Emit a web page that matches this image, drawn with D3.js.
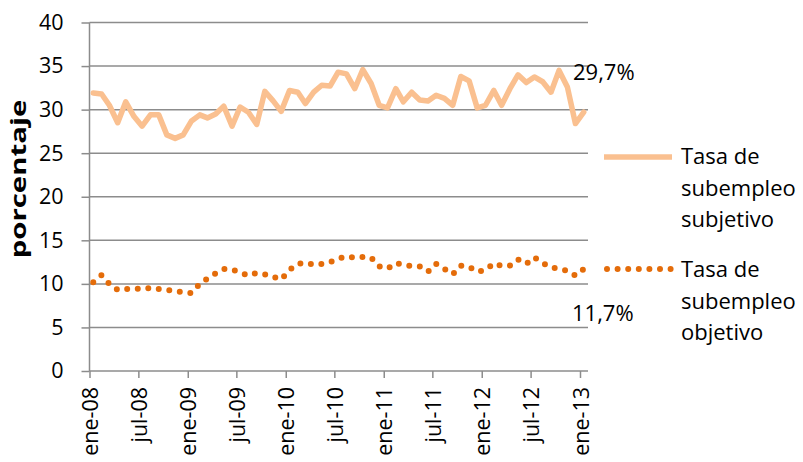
<!DOCTYPE html>
<html>
<head>
<meta charset="utf-8">
<title>Tasa de subempleo</title>
<style>
  body { margin: 0; background: #fff; }
  svg { display: block; font-family: 'Open Sans', sans-serif; }
  .grid line { stroke: #8c8c8c; stroke-width: 1.5px; }
  .axis path, .axis line { stroke: #8c8c8c; stroke-width: 1.5px; }
  .axis text { fill: #000; font-size: 21.5px; font-family: 'Open Sans', sans-serif; }
</style>
</head>
<body>
<div id="chart"></div>
<script src="https://d3js.org/d3.v7.min.js"></script>
<script>
var width = 803, height = 462;

// monthly values, ene-08 .. ene-13
var subjetivo = [31.9, 31.8, 30.5, 28.5, 30.9, 29.2, 28.1, 29.4, 29.4, 27.1, 26.7, 27.1,
                 28.7, 29.4, 29.05, 29.5, 30.4, 28.1, 30.3, 29.7, 28.3, 32.1, 31.0, 29.8,
                 32.2, 32.0, 30.7, 32.0, 32.8, 32.7, 34.3, 34.1, 32.4, 34.6, 33.0, 30.5,
                 30.2, 32.4, 30.9, 32.0, 31.1, 31.0, 31.65, 31.3, 30.5, 33.8, 33.3, 30.2,
                 30.5, 32.2, 30.5, 32.4, 34.0, 33.1, 33.75, 33.2, 32.0, 34.5, 32.6, 28.4,
                 29.7];
var objetivo = [10.2, 11.0, 10.0, 9.3, 9.4, 9.45, 9.4, 9.55, 9.4, 9.3, 9.15, 9.05,
                8.95, 10.0, 10.6, 11.2, 11.7, 11.65, 11.3, 10.95, 11.25, 11.1, 10.8, 10.5,
                11.6, 12.3, 12.4, 12.2, 12.3, 12.5, 12.9, 13.15, 13.0, 13.1, 13.0, 12.0,
                11.75, 12.4, 12.2, 12.05, 12.0, 11.4, 12.3, 11.7, 11.1, 12.1, 11.95, 11.4,
                11.6, 12.35, 12.05, 12.1, 12.8, 12.3, 13.05, 12.4, 11.9, 11.7, 11.5, 10.95,
                11.7];
var yTicks = [0, 5, 10, 15, 20, 25, 30, 35, 40];
var mesesCortos = ["ene", "feb", "mar", "abr", "may", "jun", "jul", "ago", "sep", "oct", "nov", "dic"];
var legendNames = [["Tasa de", "subempleo", "subjetivo"], ["Tasa de", "subempleo", "objetivo"]];
var endLabels = ["29,7%", "11,7%"];

var meses = d3.timeMonth.range(new Date(2008, 0, 1), new Date(2013, 1, 1));
var tickDates = d3.timeMonth.every(6).range(new Date(2008, 0, 1), new Date(2013, 1, 1));

var x = d3.scaleTime()
    .domain([new Date(2008, 0, 1), new Date(2013, 0, 1)])
    .range([89.5, 580]);
var y = d3.scaleLinear().domain([0, 40]).range([371, 22.5]);
var xRight = 588;

var svg = d3.select("#chart").append("svg")
    .attr("width", width)
    .attr("height", height);

// gridlines
svg.append("g").attr("class", "grid")
  .selectAll("line")
  .data(yTicks.slice(1))
  .enter().append("line")
    .attr("x1", x.range()[0]).attr("x2", xRight)
    .attr("y1", function(d){ return y(d); })
    .attr("y2", function(d){ return y(d); });

// y axis
var yAxis = svg.append("g").attr("class", "axis")
    .attr("transform", "translate(" + x.range()[0] + ",0)")
    .call(d3.axisLeft(y).tickValues(yTicks).tickSize(8).tickPadding(18).tickSizeOuter(0));
yAxis.select(".domain").attr("d", "M0," + y(0) + "V" + y(40));

// x axis
var xAxis = svg.append("g").attr("class", "axis")
    .attr("transform", "translate(0," + y(0) + ")")
    .call(d3.axisBottom(x).tickValues(tickDates).tickSize(7).tickSizeOuter(0)
      .tickFormat(function(d){ return mesesCortos[d.getMonth()] + "-" + d3.timeFormat("%y")(d); }));
xAxis.select(".domain").attr("d", "M" + x.range()[0] + ",0H" + xRight);
xAxis.selectAll("text")
    .attr("transform", "rotate(-90)")
    .attr("text-anchor", "end")
    .attr("x", -16)
    .attr("y", 0)
    .attr("dy", "0.38em");

// y title (stretched along its length like the original)
svg.append("text")
    .attr("transform", "translate(26,179) rotate(-90) scale(1.4,1)")
    .attr("text-anchor", "middle")
    .style("font-weight", "bold")
    .style("font-size", "21px")
    .text("porcentaje");

function mid(d){ return d3.timeDay.offset(d, 14); }

var line = d3.line()
    .x(function(d, i){ return x(mid(meses[i])); })
    .y(function(d){ return y(d); });

svg.append("path")
    .datum(subjetivo)
    .attr("fill", "none")
    .attr("stroke", "#FAC090")
    .attr("stroke-width", 5.5)
    .attr("stroke-linejoin", "round")
    .attr("stroke-linecap", "round")
    .attr("d", line);

svg.append("path")
    .datum(objetivo)
    .attr("fill", "none")
    .attr("stroke", "#E46C0A")
    .attr("stroke-width", 6)
    .attr("stroke-linecap", "round")
    .attr("stroke-dasharray", "0 10.6")
    .attr("d", line);

// end labels
svg.append("text").attr("x", 573).attr("y", 80)
    .style("font-size", "22px").text(endLabels[0]);
svg.append("text").attr("x", 572).attr("y", 321)
    .style("font-size", "22px").text(endLabels[1]);

// legend
var legend = svg.append("g");
legend.append("line")
    .attr("x1", 604).attr("x2", 672).attr("y1", 157).attr("y2", 157)
    .attr("stroke", "#FAC090").attr("stroke-width", 5.5);
legend.append("line")
    .attr("x1", 607).attr("x2", 672).attr("y1", 269).attr("y2", 269)
    .attr("stroke", "#E46C0A").attr("stroke-width", 6)
    .attr("stroke-linecap", "round").attr("stroke-dasharray", "0 10.6");

legendNames.forEach(function(lines, k){
    var t = legend.append("text")
        .attr("x", 681)
        .attr("y", k === 0 ? 164 : 277)
        .style("font-size", "22px");
    lines.forEach(function(s, j){
        t.append("tspan").attr("x", 681).attr("dy", j === 0 ? 0 : 31.5).text(s);
    });
});
</script>
</body>
</html>
